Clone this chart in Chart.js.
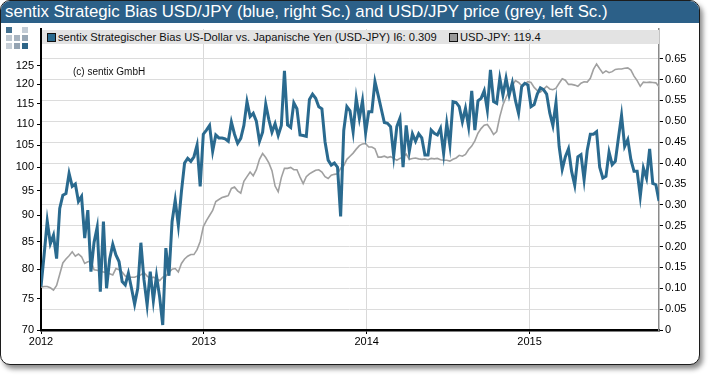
<!DOCTYPE html>
<html>
<head>
<meta charset="utf-8">
<script src="https://cdn.jsdelivr.net/npm/chart.js@4.4.0/dist/chart.umd.min.js"></script>
<style>
  body { margin: 0; width: 710px; height: 376px; background: #fff; overflow: hidden;
         font-family: "Liberation Sans", Arial, sans-serif; }
  .frame { position: absolute; left: 0; top: 0; width: 698px; height: 363px;
           border: 1.5px solid #1c1c1c; border-radius: 10px; background: #fff;
           box-shadow: 3px 4px 5px rgba(0,0,0,0.45); overflow: hidden; }
  .title { position: absolute; left: 0; top: 0; right: 0; height: 22px; background: #2c6088;
           color: #fff; font-size: 16.8px; line-height: 22px; padding-left: 4px; white-space: nowrap; }
  .logo { position: absolute; left: 6px; top: 27px; width: 22px; height: 22px; }
  .logo span { position: absolute; width: 6px; height: 6px; }
  #canvas { position: absolute; left: 0; top: 0; z-index: 1; }
  .legend { position: absolute; left: 42px; top: 30px; width: 617px; height: 14px; background: #e3e3e3;
            z-index: 2; font-size: 11.2px; line-height: 14px; color: #111; white-space: nowrap; }
  .legend .box { position: absolute; top: 3px; width: 7px; height: 7px; border: 1px solid #111; }
  .legend .txt { position: absolute; top: 0; }
  .copy { position: absolute; left: 73px; top: 66px; font-size: 10px; color: #111; z-index: 2; }
</style>
</head>
<body>
<div class="frame">
  <div class="title">sentix Strategic Bias USD/JPY (blue, right Sc.) and USD/JPY price (grey, left Sc.)</div>
</div>
<div class="logo">
  <span style="left:0;top:0;background:#43708f"></span>
  <span style="left:16px;top:0;background:#c3ccd5"></span>
  <span style="left:0;top:8px;background:#bcc6cf"></span>
  <span style="left:8px;top:8px;background:#a8b4c0"></span>
  <span style="left:16px;top:8px;background:#99a8b6"></span>
  <span style="left:0;top:16px;background:#c6ced6"></span>
  <span style="left:8px;top:16px;background:#94a3b2"></span>
  <span style="left:16px;top:16px;background:#2e6588"></span>
</div>
<canvas id="canvas" width="710" height="376"></canvas>
<div class="legend">
  <div class="box" style="left:5px;background:#2a6a8f"></div>
  <div class="txt" id="leg1" style="left:16px"></div>
  <div class="box" style="left:407px;background:#9a9a9a"></div>
  <div class="txt" id="leg2" style="left:418px"></div>
</div>
<div class="copy">(c) sentix GmbH</div>

<script>
// wöchentliche Werte ab Anfang 2012
const startYear = 2012;

// sentix Strategischer Bias (rechte Skala)
const biasValues = [
  0.104, 0.18, 0.261, 0.207, 0.227, 0.171, 0.291, 0.323, 0.327, 0.375,
  0.344, 0.35, 0.308, 0.32, 0.22, 0.287, 0.14, 0.21, 0.246, 0.092,
  0.26, 0.10, 0.17, 0.205, 0.18, 0.164, 0.116, 0.108, 0.136, 0.100,
  0.062, 0.10, 0.209, 0.12, 0.06, 0.14, 0.07, 0.13, 0.08, 0.012,
  0.196, 0.13, 0.26, 0.311, 0.251, 0.332, 0.40, 0.411, 0.404, 0.415,
  0.443, 0.344, 0.469, 0.479, 0.49, 0.428, 0.467, 0.46, 0.46, 0.458,
  0.452, 0.498, 0.469, 0.447, 0.459, 0.49, 0.547, 0.511, 0.519, 0.5,
  0.452, 0.474, 0.541, 0.504, 0.474, 0.494, 0.466, 0.49, 0.621, 0.491,
  0.485, 0.544, 0.53, 0.467, 0.466, 0.464, 0.552, 0.565, 0.555, 0.535,
  0.53, 0.451, 0.407, 0.395, 0.40, 0.39, 0.272, 0.478, 0.535, 0.525,
  0.475, 0.555, 0.507, 0.549, 0.472, 0.523, 0.523, 0.595, 0.563, 0.53,
  0.497, 0.495, 0.487, 0.417, 0.487, 0.507, 0.39, 0.49, 0.428, 0.47,
  0.452, 0.47, 0.46, 0.419, 0.419, 0.479, 0.471, 0.467, 0.483, 0.423,
  0.495, 0.443, 0.547, 0.545, 0.535, 0.499, 0.531, 0.487, 0.573, 0.479,
  0.549, 0.555, 0.573, 0.527, 0.623, 0.547, 0.543, 0.603, 0.563, 0.603,
  0.563, 0.592, 0.55, 0.519, 0.583, 0.591, 0.587, 0.535, 0.54, 0.565,
  0.58, 0.576, 0.565, 0.52, 0.49, 0.545, 0.44, 0.385, 0.415, 0.434,
  0.38, 0.347, 0.415, 0.42, 0.36, 0.43, 0.469, 0.469, 0.475, 0.39,
  0.364, 0.368, 0.426, 0.396, 0.404, 0.46, 0.514, 0.44, 0.456, 0.408,
  0.38, 0.38, 0.32, 0.388, 0.364, 0.434, 0.351, 0.348, 0.309,
];

// USD-JPY Kurs (linke Skala)
const usdJpyValues = [
  76.9, 77.0, 77.0, 76.8, 76.4, 77.2, 79.1, 81.1, 81.8, 82.4,
  83.1, 82.3, 82.7, 82.2, 81.0, 81.3, 81.4, 79.9, 79.8, 79.6,
  79.5, 79.4, 79.2, 79.0, 80.1, 79.9, 79.5, 78.8, 78.6, 78.6,
  78.6, 78.8, 79.0, 79.4, 78.8, 78.4, 78.6, 78.4, 78.0, 78.6,
  78.8, 79.4, 80.0, 80.1, 79.5, 81.0, 81.8, 82.3, 82.6, 82.6,
  83.5, 85.0, 87.8, 89.0, 90.0, 91.0, 92.8, 93.2, 93.6, 93.8,
  94.0, 95.5, 95.8, 95.0, 94.5, 97.0, 98.0, 99.0, 98.2, 99.5,
  101.8, 103.1, 102.2, 101.0, 99.3, 96.0, 94.8, 97.8, 99.8, 99.8,
  100.0, 99.5, 99.5, 97.9, 96.5, 98.0, 98.6, 99.0, 99.4, 99.5,
  99.0, 98.0, 97.6, 98.3, 98.5, 98.6, 99.8, 100.4, 101.8, 102.5,
  103.2, 104.1, 104.9, 105.3, 105.4, 104.6, 104.6, 104.2, 102.3, 102.3,
  102.5, 102.2, 102.4, 102.0, 101.6, 102.0, 102.3, 103.0, 101.8, 102.0,
  102.1, 101.9, 101.8, 101.9, 101.7, 102.0, 101.9, 102.0, 101.7, 101.6,
  101.6, 101.4, 101.8, 102.1, 102.7, 102.5, 102.9, 104.0, 104.8, 106.0,
  107.8, 108.9, 109.7, 109.9, 108.8, 107.5, 108.2, 111.8, 114.7, 116.6,
  118.4, 119.7, 121.0, 120.5, 119.7, 120.1, 120.7, 120.5, 119.2, 118.4,
  118.0, 118.7, 119.5, 118.8, 118.6, 119.0, 120.3, 121.5, 121.1, 120.0,
  120.0, 119.8, 119.5, 120.3, 120.7, 120.6, 121.6, 124.0, 125.5, 124.2,
  123.0, 123.6, 123.1, 123.4, 124.0, 124.1, 124.1, 124.3, 124.4, 123.8,
  122.2, 121.0, 119.5, 120.6, 120.5, 120.6, 120.5, 120.4, 119.4,
];

const leftTicks = [70, 75, 80, 85, 90, 95, 100, 105, 110, 115, 120, 125];
const rightTicks = [0, 0.05, 0.1, 0.15, 0.2, 0.25, 0.3, 0.35, 0.4, 0.45, 0.5, 0.55, 0.6, 0.65];
const yearTicks = [2012, 2013, 2014, 2015];

// Zeitachse: Wochen als Jahresbruchteil
const weekX = biasValues.map((v, i) => startYear + (i * 7) / 365.25);

document.getElementById("leg1").textContent =
  "sentix Strategischer Bias US-Dollar vs. Japanische Yen (USD-JPY) I6: " +
  biasValues[biasValues.length - 1].toFixed(3);
document.getElementById("leg2").textContent =
  "USD-JPY: " + usdJpyValues[usdJpyValues.length - 1].toFixed(1);

const tickFont = { size: 11, family: "'Liberation Sans', Arial, sans-serif" };

const ctx = document.getElementById("canvas").getContext("2d");
new Chart(ctx, {
  type: "line",
  data: {
    datasets: [
      {
        label: "sentix Strategischer Bias",
        data: biasValues.map((v, i) => ({ x: weekX[i], y: v })),
        yAxisID: "yRight",
        borderColor: "#2a6a8f",
        borderWidth: 3,
        pointRadius: 0,
        tension: 0,
        order: 0,
      },
      {
        label: "USD-JPY",
        data: usdJpyValues.map((v, i) => ({ x: weekX[i], y: v })),
        yAxisID: "yLeft",
        borderColor: "#a0a0a0",
        borderWidth: 1.6,
        pointRadius: 0,
        tension: 0,
        order: 1,
      },
    ],
  },
  options: {
    responsive: false,
    animation: false,
    layout: { padding: { top: 29, left: 0, right: 0, bottom: 0 } },
    plugins: { legend: { display: false }, tooltip: { enabled: false } },
    scales: {
      x: {
        type: "linear",
        min: startYear,
        max: weekX[weekX.length - 1],
        afterBuildTicks: (s) => { s.ticks = yearTicks.map((v) => ({ value: v })); },
        afterFit: (s) => { s.height = 46; },
        ticks: { autoSkip: false, maxRotation: 0, color: "#000", font: tickFont, padding: 1,
                 callback: (v) => String(v) },
        grid: { color: "#d9d9d9", tickColor: "#000", tickLength: 4 },
        border: { display: true, color: "#000", width: 2.5 },
      },
      yLeft: {
        type: "logarithmic",
        position: "left",
        min: 70,
        max: 135.5,
        afterBuildTicks: (s) => { s.ticks = leftTicks.map((v) => ({ value: v })); },
        afterFit: (s) => { s.width = 41; },
        ticks: { autoSkip: false, color: "#000", font: tickFont, padding: 3,
                 callback: (v) => String(v) },
        grid: { drawOnChartArea: false, tickColor: "#000", tickLength: 4 },
        border: { display: true, color: "#000", width: 2 },
      },
      yRight: {
        type: "linear",
        position: "right",
        min: 0,
        max: 0.721,
        afterBuildTicks: (s) => { s.ticks = rightTicks.map((v) => ({ value: v })); },
        afterFit: (s) => { s.width = 51; },
        ticks: { autoSkip: false, color: "#000", font: tickFont, padding: 2,
                 callback: (v) => (v === 0 ? "0" : v.toFixed(2)) },
        grid: { color: "#dcdcdc", tickColor: "#000", tickLength: 4 },
        border: { display: true, color: "#8a8a8a", width: 1.5 },
      },
    },
  },
});
</script>
</body>
</html>
